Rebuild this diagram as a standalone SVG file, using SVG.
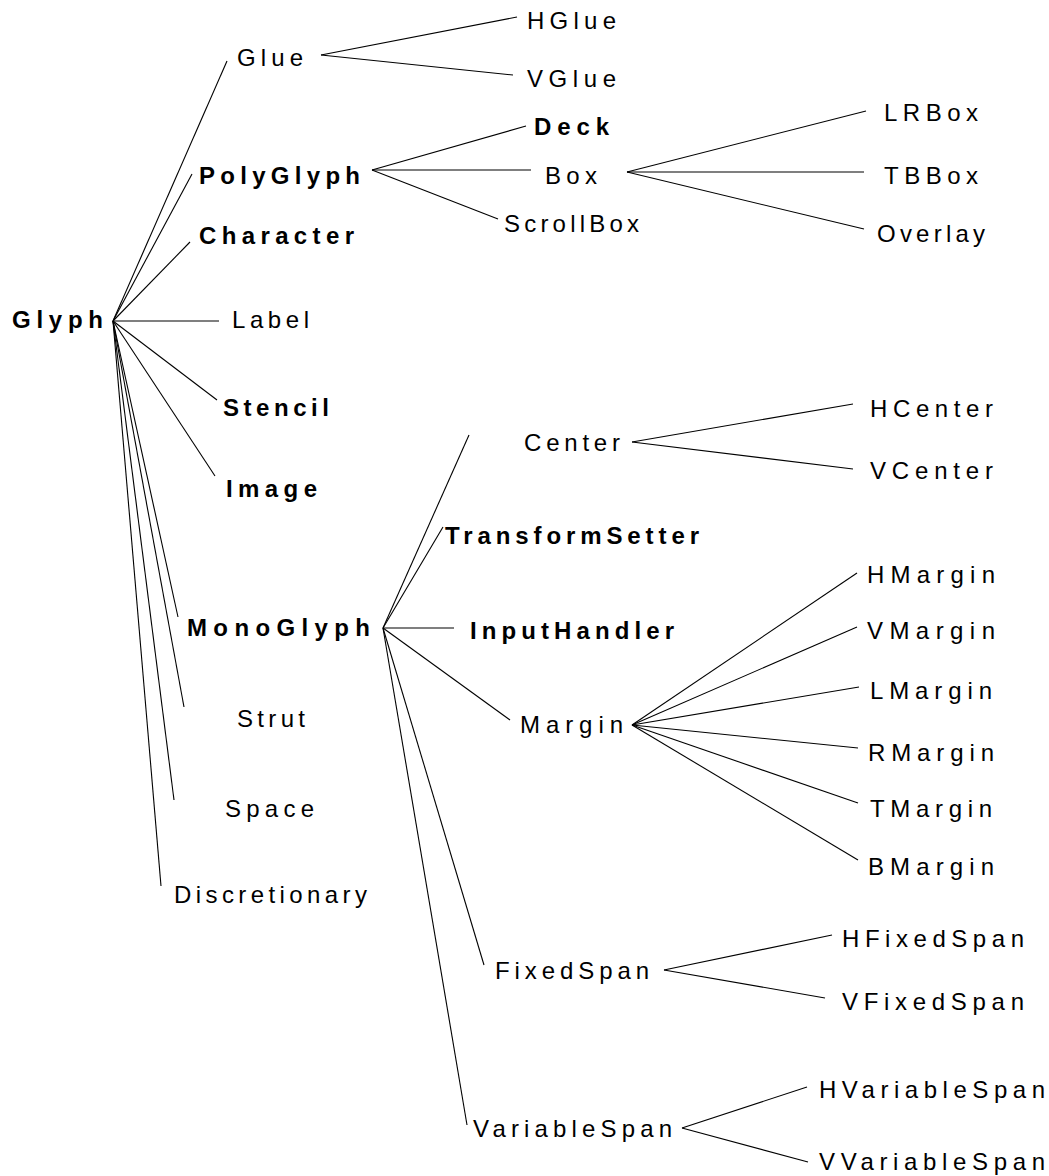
<svg xmlns="http://www.w3.org/2000/svg" width="1049" height="1176" viewBox="0 0 1049 1176">
<style>
text{font-family:"Liberation Sans",Arial,Helvetica,sans-serif;font-size:24px;fill:#000}
.b{font-weight:bold}
#connectors line{stroke:#000;stroke-width:1.1;fill:none}
</style>
<rect width="1049" height="1176" fill="#fff"/>
<g id="connectors">
<line x1="113" y1="321" x2="227" y2="61"/>
<line x1="113" y1="321" x2="192" y2="174"/>
<line x1="113" y1="321" x2="190" y2="242"/>
<line x1="113" y1="321" x2="219" y2="321"/>
<line x1="113" y1="321" x2="217" y2="400"/>
<line x1="113" y1="321" x2="215" y2="476"/>
<line x1="113" y1="321" x2="178" y2="617"/>
<line x1="113" y1="321" x2="184" y2="707"/>
<line x1="113" y1="321" x2="174" y2="800"/>
<line x1="113" y1="321" x2="161" y2="886"/>
<line x1="321" y1="55" x2="517" y2="17"/>
<line x1="321" y1="55" x2="513" y2="75"/>
<line x1="372" y1="170" x2="526" y2="126"/>
<line x1="372" y1="170" x2="531" y2="170"/>
<line x1="372" y1="170" x2="498" y2="219"/>
<line x1="627" y1="172" x2="866" y2="111"/>
<line x1="627" y1="172" x2="864" y2="172"/>
<line x1="627" y1="172" x2="864" y2="229"/>
<line x1="383" y1="628" x2="469" y2="435"/>
<line x1="383" y1="628" x2="443" y2="527"/>
<line x1="383" y1="628" x2="454" y2="628"/>
<line x1="383" y1="628" x2="510" y2="720"/>
<line x1="383" y1="628" x2="484" y2="965"/>
<line x1="383" y1="628" x2="467" y2="1125"/>
<line x1="632" y1="442" x2="853" y2="404"/>
<line x1="632" y1="442" x2="853" y2="469"/>
<line x1="632" y1="725" x2="857" y2="573"/>
<line x1="632" y1="725" x2="857" y2="627"/>
<line x1="632" y1="725" x2="859" y2="687"/>
<line x1="632" y1="725" x2="858" y2="748"/>
<line x1="632" y1="725" x2="858" y2="803"/>
<line x1="632" y1="725" x2="858" y2="860"/>
<line x1="664" y1="970" x2="832" y2="935"/>
<line x1="664" y1="970" x2="825" y2="998"/>
<line x1="682" y1="1128" x2="807" y2="1087"/>
<line x1="682" y1="1128" x2="808" y2="1162"/>
</g>
<g id="Glyph"><text class="b" x="12" y="328" textLength="91" lengthAdjust="spacing">Glyph</text></g>
<g id="Glue"><text x="237" y="66" textLength="66" lengthAdjust="spacing">Glue</text></g>
<g id="PolyGlyph"><text class="b" x="199" y="184" textLength="161" lengthAdjust="spacing">PolyGlyph</text></g>
<g id="Character"><text class="b" x="199" y="244" textLength="155" lengthAdjust="spacing">Character</text></g>
<g id="Label"><text x="232" y="328" textLength="77" lengthAdjust="spacing">Label</text></g>
<g id="Stencil"><text class="b" x="223" y="416" textLength="106" lengthAdjust="spacing">Stencil</text></g>
<g id="Image"><text class="b" x="226" y="497" textLength="91" lengthAdjust="spacing">Image</text></g>
<g id="MonoGlyph"><text class="b" x="187" y="636" textLength="183" lengthAdjust="spacing">MonoGlyph</text></g>
<g id="Strut"><text x="237" y="727" textLength="68" lengthAdjust="spacing">Strut</text></g>
<g id="Space"><text x="225" y="817" textLength="89" lengthAdjust="spacing">Space</text></g>
<g id="Discretionary"><text x="174" y="903" textLength="193" lengthAdjust="spacing">Discretionary</text></g>
<g id="HGlue"><text x="527" y="29" textLength="89" lengthAdjust="spacing">HGlue</text></g>
<g id="VGlue"><text x="527" y="87" textLength="89" lengthAdjust="spacing">VGlue</text></g>
<g id="Deck"><text class="b" x="534" y="135" textLength="75" lengthAdjust="spacing">Deck</text></g>
<g id="Box"><text x="545" y="184" textLength="52" lengthAdjust="spacing">Box</text></g>
<g id="ScrollBox"><text x="504" y="232" textLength="135" lengthAdjust="spacing">ScrollBox</text></g>
<g id="LRBox"><text x="884" y="121" textLength="94" lengthAdjust="spacing">LRBox</text></g>
<g id="TBBox"><text x="884" y="184" textLength="94" lengthAdjust="spacing">TBBox</text></g>
<g id="Overlay"><text x="877" y="242" textLength="108" lengthAdjust="spacing">Overlay</text></g>
<g id="Center"><text x="524" y="451" textLength="96" lengthAdjust="spacing">Center</text></g>
<g id="HCenter"><text x="870" y="417" textLength="123" lengthAdjust="spacing">HCenter</text></g>
<g id="VCenter"><text x="870" y="479" textLength="123" lengthAdjust="spacing">VCenter</text></g>
<g id="TransformSetter"><text class="b" x="445" y="544" textLength="254" lengthAdjust="spacing">TransformSetter</text></g>
<g id="InputHandler"><text class="b" x="470" y="639" textLength="204" lengthAdjust="spacing">InputHandler</text></g>
<g id="Margin"><text x="520" y="733" textLength="103" lengthAdjust="spacing">Margin</text></g>
<g id="HMargin"><text x="867" y="583" textLength="128" lengthAdjust="spacing">HMargin</text></g>
<g id="VMargin"><text x="867" y="639" textLength="128" lengthAdjust="spacing">VMargin</text></g>
<g id="LMargin"><text x="870" y="699" textLength="122" lengthAdjust="spacing">LMargin</text></g>
<g id="RMargin"><text x="868" y="761" textLength="126" lengthAdjust="spacing">RMargin</text></g>
<g id="TMargin"><text x="870" y="817" textLength="122" lengthAdjust="spacing">TMargin</text></g>
<g id="BMargin"><text x="868" y="875" textLength="126" lengthAdjust="spacing">BMargin</text></g>
<g id="FixedSpan"><text x="495" y="979" textLength="154" lengthAdjust="spacing">FixedSpan</text></g>
<g id="HFixedSpan"><text x="842" y="947" textLength="182" lengthAdjust="spacing">HFixedSpan</text></g>
<g id="VFixedSpan"><text x="842" y="1010" textLength="182" lengthAdjust="spacing">VFixedSpan</text></g>
<g id="VariableSpan"><text x="473" y="1137" textLength="199" lengthAdjust="spacing">VariableSpan</text></g>
<g id="HVariableSpan"><text x="819" y="1098" textLength="226" lengthAdjust="spacing">HVariableSpan</text></g>
<g id="VVariableSpan"><text x="819" y="1170" textLength="226" lengthAdjust="spacing">VVariableSpan</text></g>
</svg>
